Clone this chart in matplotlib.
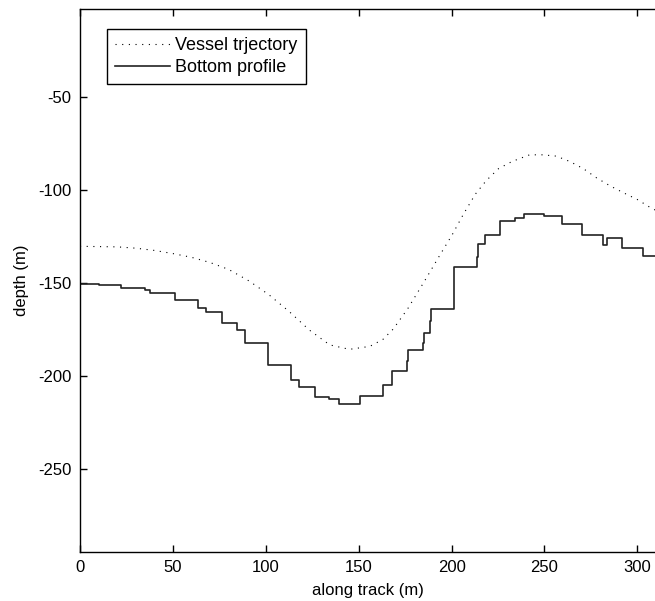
import matplotlib
matplotlib.use("Agg")
import matplotlib.pyplot as plt

# trayectoria del barco (punteada)
vessel_x = [0, 20, 30, 40, 50, 60, 70, 80, 91, 101.7, 112.7, 123.4, 134.4, 145,
            156, 163, 168.6, 176.4, 185.3, 193.9, 200.4, 206.3, 212.8, 218.7,
            225.3, 232.5, 242, 249, 256.4, 263.7, 270.9, 278.1, 285.4, 292.6,
            300, 307, 310]
vessel_y = [-130.3, -130.6, -131.3, -132.5, -134.2, -136.2, -139, -142.7, -148.9,
            -156.3, -165.4, -175.2, -183.2, -185.6, -184, -180.3, -174.7, -163.8,
            -149.2, -134.7, -124, -113.2, -102.3, -95, -88.6, -84.8, -81.2, -81.2,
            -81.9, -84.8, -88.6, -93.6, -97.9, -101.6, -105.2, -109.5, -111]

# perfil del fondo (escalones)
bottom_x = [0, 10, 22, 35, 37.7, 51, 63.7, 67.6, 76.3, 84.3, 88.8, 101.2, 113.5,
            117.7, 126.5, 134.2, 139.2, 150.7, 163.3, 167.7, 175.8, 176.3, 184.8,
            185.3, 188.4, 188.9, 201.1, 213.5, 214.2, 218.2, 226.1, 234.3, 239.0,
            249.9, 259.7, 270.4, 281.3, 283.4, 292.0, 302.8, 310]
bottom_y = [-150.5, -151.3, -152.9, -153.6, -155.6, -159.3, -163.6, -165.8, -171.6,
            -175.2, -182.4, -194.1, -201.9, -205.7, -211.3, -212.2, -215.1, -210.8,
            -204.6, -197.4, -192, -186.2, -182.2, -176.8, -170.6, -163.8, -141.3,
            -135.8, -128.9, -124.0, -116.8, -115.2, -113.0, -114.3, -118.1, -124.0,
            -129.7, -126.1, -131.1, -135.4, -135.4]

x_ticks = [0, 50, 100, 150, 200, 250, 300]
y_ticks = [-250, -200, -150, -100, -50]

plt.rcParams['font.family'] = ['Liberation Sans', 'DejaVu Sans']
plt.rcParams['font.size'] = 12
plt.rcParams['axes.unicode_minus'] = False

fig = plt.figure(figsize=(6.55, 6.01), dpi=100)
ax = fig.add_axes([80 / 655, (601 - 551.7) / 601, 575 / 655, 542.4 / 601])

ax.plot(vessel_x, vessel_y, color='black', lw=0.8, linestyle=(0, (1, 5)),
        label='Vessel trjectory')
ax.plot(bottom_x, bottom_y, color='#222222', lw=1.2, drawstyle='steps-post',
        label='Bottom profile')

ax.set_xlim(0, 309.5)
ax.set_ylim(-294.2, -3.1)
ax.set_xticks(x_ticks)
ax.set_yticks(y_ticks)
ax.tick_params(direction='in', length=5, width=1, top=True, right=False, pad=6)
ax.spines['right'].set_visible(False)
for s in ['left', 'top', 'bottom']:
    ax.spines[s].set_linewidth(1)

ax.set_xlabel('along track (m)', labelpad=6)
ax.set_ylabel('depth (m)', labelpad=7)

leg = ax.legend(loc='upper left', bbox_to_anchor=(0.047, 0.964), borderaxespad=0,
                fancybox=False, edgecolor='black', framealpha=1, fontsize=13,
                handlelength=3.05, handletextpad=0.28, labelspacing=0.3,
                borderpad=0.45)
leg.get_frame().set_linewidth(1)

plt.savefig('out.png', dpi=100)
